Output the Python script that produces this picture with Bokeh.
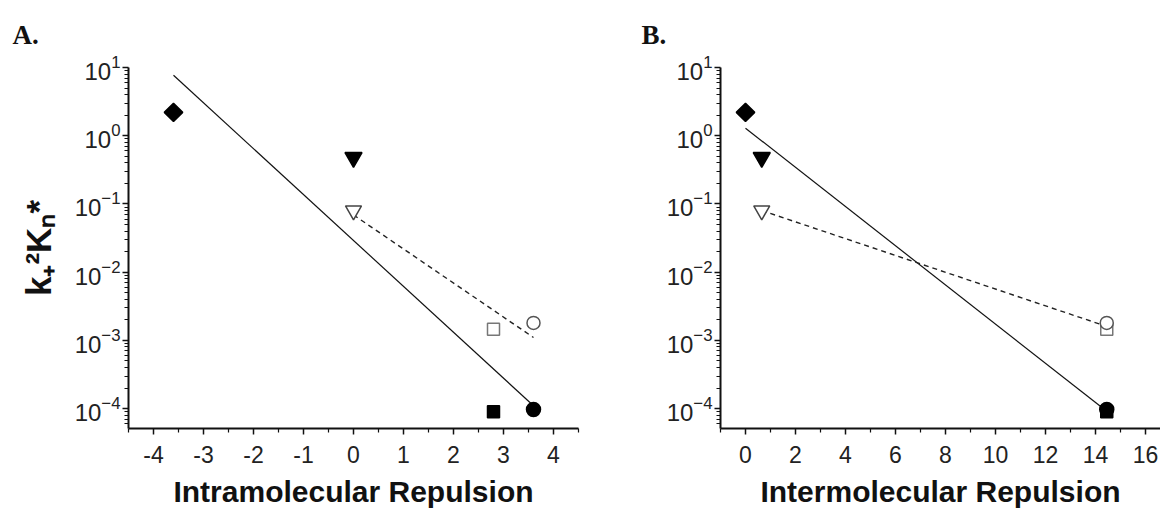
import numpy as np
from bokeh.plotting import figure
from bokeh.layouts import row
from bokeh.models import FixedTicker, ColumnDataSource
from bokeh.embed import file_html
from bokeh.resources import INLINE

# ---- data ----
series = ["diamond_filled", "tri_filled", "tri_open", "square_open",
          "circle_open", "square_filled", "circle_filled"]
rate_y = [2.2, 0.48, 0.08, 1.45e-3, 1.8e-3, 9.0e-5, 9.7e-5]
intra_x = [-3.6, 0.0, 0.0, 2.8, 3.6, 2.8, 3.6]
inter_x = [0.0, 0.65, 0.65, 14.45, 14.45, 14.45, 14.45]

# fitted lines (end points)
fitA_solid_x = [-3.6, 3.6]
fitA_solid_y = [7.7, 1.1e-4]
fitA_dash_x = [0.0, 3.6]
fitA_dash_y = [0.069, 1.1e-3]
fitB_solid_x = [0.0, 14.45]
fitB_solid_y = [1.29, 9.1e-5]
fitB_dash_x = [0.65, 14.45]
fitB_dash_y = [0.08, 1.6e-3]

xticksA = [-4, -3, -2, -1, 0, 1, 2, 3, 4]
xlabelsA = ["-4", "-3", "-2", "-1", "0", "1", "2", "3", "4"]
xticksB = [0, 2, 4, 6, 8, 10, 12, 14, 16]
xlabelsB = ["0", "2", "4", "6", "8", "10", "12", "14", "16"]
y_decades = [1e-4, 1e-3, 1e-2, 1e-1, 1e0, 1e1]

# ---- styles ----
styles = {
    "diamond_filled": dict(marker="square", size=13, angle=np.pi / 4, fill_color="black", line_color="black"),
    "tri_filled": dict(marker="inverted_triangle", size=17, angle=0, fill_color="black", line_color="black"),
    "tri_open": dict(marker="inverted_triangle", size=16, angle=0, fill_color="white", line_color="#444444"),
    "square_open": dict(marker="square", size=12, angle=0, fill_color="white", line_color="#777777"),
    "circle_open": dict(marker="circle", size=13, angle=0, fill_color="white", line_color="#555555"),
    "square_filled": dict(marker="square", size=12, angle=0, fill_color="black", line_color="black"),
    "circle_filled": dict(marker="circle", size=14, angle=0, fill_color="black", line_color="black"),
}
draw_order = ["diamond_filled", "tri_filled", "tri_open", "square_open",
              "square_filled", "circle_open", "circle_filled"]

minor_y = [m * 10.0 ** e for e in range(-5, 1) for m in range(2, 10)]
minor_y = [v for v in minor_y if 5.0e-5 <= v <= 10]

TICK_FONT = "Liberation Sans"


def make_panel(xs, xr, xticks, xlabels, xminor, left_border, right_border, xlabel,
               line_solid, line_dash, panel_text, panel_offset, show_ylabel):
    p = figure(width=580, height=510, x_range=xr, y_range=(5.1e-5, 10),
               y_axis_type="log", output_backend="svg", toolbar_location=None,
               min_border_left=left_border, min_border_right=right_border,
               min_border_top=67, min_border_bottom=82)
    p.outline_line_color = None
    p.xgrid.visible = False
    p.ygrid.visible = False
    p.background_fill_color = "white"
    p.border_fill_color = "white"

    # panel letter as the title
    p.title.text = panel_text
    p.title.align = "left"
    p.title.vertical_align = "top"
    p.title.offset = panel_offset
    p.title.standoff = 32
    p.title.text_font = "Liberation Serif"
    p.title.text_font_style = "bold"
    p.title.text_font_size = "27px"
    p.title.text_color = "#111111"

    p.xaxis.ticker = FixedTicker(ticks=xticks, minor_ticks=xminor)
    p.xaxis.major_label_overrides = {t: s for t, s in zip(xticks, xlabels)}
    p.yaxis.ticker = FixedTicker(ticks=y_decades, minor_ticks=minor_y)

    for ax in (p.xaxis[0], p.yaxis[0]):
        ax.axis_line_width = 2
        ax.axis_line_color = "#111111"
        ax.major_tick_line_width = 1.5
        ax.minor_tick_line_width = 1.2
        ax.major_tick_line_color = "#111111"
        ax.minor_tick_line_color = "#111111"
        ax.major_tick_out = 6
        ax.major_tick_in = 0
        ax.minor_tick_out = 4
        ax.minor_tick_in = 0
        ax.major_label_text_font = TICK_FONT
        ax.major_label_text_font_size = "23px"
        ax.major_label_text_color = "#222222"
        ax.axis_label_text_font = TICK_FONT
        ax.axis_label_text_font_style = "bold"
        ax.axis_label_text_color = "#111111"

    p.xaxis.major_label_standoff = 11
    p.xaxis.axis_label = xlabel
    p.xaxis.axis_label_text_font_size = "30px"
    p.xaxis.axis_label_standoff = 9

    p.yaxis.major_label_standoff = 2
    p.yaxis.major_label_text_font_size = "24px"
    if show_ylabel:
        p.yaxis.axis_label = "k\u208a\u00b2K\u2099*"
        p.yaxis.axis_label_text_font_size = "35px"
        p.yaxis.axis_label_standoff = 14

    # fit lines
    p.line(line_solid[0], line_solid[1], line_color="#111111", line_width=1.2)
    p.line(line_dash[0], line_dash[1], line_color="#222222", line_width=1.4,
           line_dash="5 4")

    for name in draw_order:
        i = series.index(name)
        st = styles[name]
        src = ColumnDataSource(dict(x=[xs[i]], y=[rate_y[i]]))
        p.scatter("x", "y", source=src, marker=st["marker"], size=st["size"],
                  angle=st["angle"], fill_color=st["fill_color"],
                  line_color=st["line_color"], line_width=1.5)
    return p


pA = make_panel(intra_x, (-4.5, 4.5), xticksA, xlabelsA,
                [-4.5, -3.5, -2.5, -1.5, -0.5, 0.5, 1.5, 2.5, 3.5, 4.5],
                128, 2, "Intramolecular Repulsion",
                (fitA_solid_x, fitA_solid_y), (fitA_dash_x, fitA_dash_y),
                "A.", 12 - 128, True)
pB = make_panel(inter_x, (-1, 16.6), xticksB, xlabelsB,
                [-1, 1, 3, 5, 7, 9, 11, 13, 15],
                140, 0, "Intermolecular Repulsion",
                (fitB_solid_x, fitB_solid_y), (fitB_dash_x, fitB_dash_y),
                "B.", 641 - 720, False)

layout = row(pA, pB)
open("out.html", "w").write(file_html(layout, INLINE))
